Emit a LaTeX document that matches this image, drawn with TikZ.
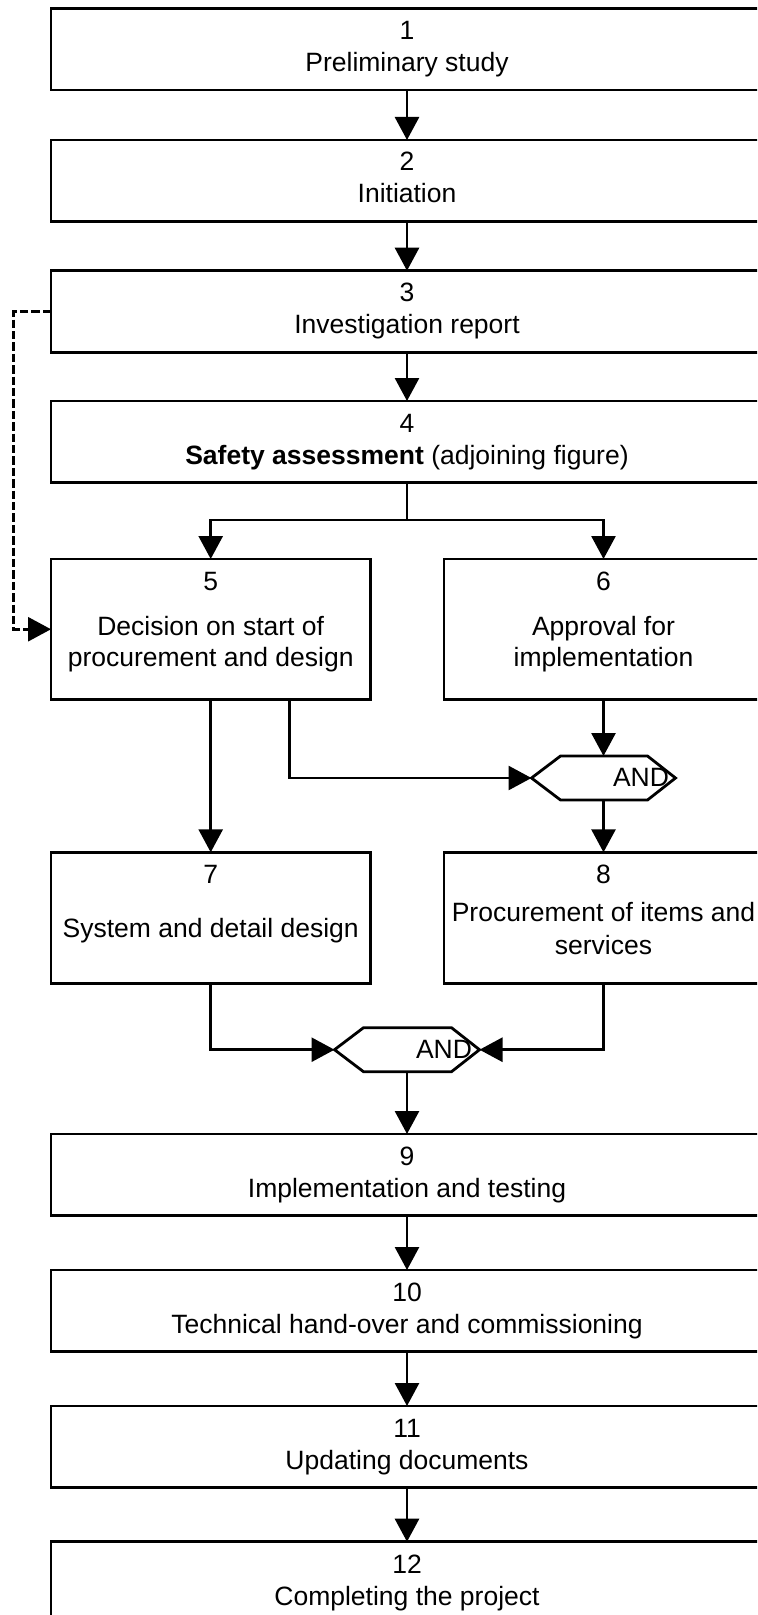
\documentclass[tikz,border=0pt]{standalone}
\usepackage{fontspec}
\setmainfont{Liberation Sans}
\usetikzlibrary{arrows.meta,calc}
\begin{document}
\begin{tikzpicture}[x=0.5pt,y=-0.5pt,
  line width=1.4pt,
  font=\fontsize{13.25pt}{15.9pt}\selectfont,
  box/.style={draw, rectangle, inner sep=0pt, outer sep=0pt},
  wide/.style={box, minimum width=356pt, minimum height=40.85pt},
  txt/.style={inner sep=0pt, outer sep=0pt, anchor=base},
  gate/.style={inner sep=0pt, outer sep=0pt, minimum height=22pt},
  flow/.style={-{Triangle[length=11.5pt,width=12pt]}},
  back/.style={flow, dash pattern=on 4.2pt off 1.5pt},
]
\path[use as bounding box, clip] (0,0) rectangle (757,1615);

% process steps
\node[wide] (b1) at (407,49.15) {};
\node[wide] (b2) at (407,180.85) {};
\node[wide] (b3) at (407,311.55) {};
\node[wide] (b4) at (407,441.85) {};
\node[box, minimum width=159.7pt, minimum height=70.25pt] (b5) at (210.7,629.25) {};
\node[box, minimum width=159.5pt, minimum height=70.25pt] (b6) at (603.5,629.25) {};
\node[box, minimum width=159.7pt, minimum height=65.5pt] (b7) at (210.7,917.8) {};
\node[box, minimum width=159.5pt, minimum height=65.5pt] (b8) at (603.5,917.8) {};
\node[wide] (b9) at (407,1174.85) {};
\node[wide] (b10) at (407,1310.85) {};
\node[wide] (b11) at (407,1446.85) {};
\node[wide] (b12) at (407,1582.55) {};

% step numbers and titles
\node[txt] (n1) at (407,39.5) {1};
\node[txt] (d1) at (407,71.5) {Preliminary study};
\node[txt] (n2) at (407,171) {2};
\node[txt] (d2) at (407,203) {Initiation};
\node[txt] (n3) at (407,302) {3};
\node[txt] (d3) at (407,334) {Investigation report};
\node[txt] (n4) at (407,432) {4};
\node[txt] (d4) at (407,464) {\textbf{Safety assessment} (adjoining figure)};
\node[txt] (n5) at (210.7,590) {5};
\node[txt] (d5a) at (210.7,635.5) {Decision on start of};
\node[txt] (d5b) at (210.7,666.5) {procurement and design};
\node[txt] (n6) at (603.5,590) {6};
\node[txt] (d6a) at (603.5,635.5) {Approval for};
\node[txt] (d6b) at (603.5,666.5) {implementation};
\node[txt] (n7) at (210.7,883.5) {7};
\node[txt] (d7) at (210.7,937.5) {System and detail design};
\node[txt] (n8) at (603.5,883.5) {8};
\node[txt] (d8a) at (603.5,921.5) {Procurement of items and};
\node[txt] (d8b) at (603.5,954) {services};
\node[txt] (n9) at (407,1165) {9};
\node[txt] (d9) at (407,1197) {Implementation and testing};
\node[txt] (n10) at (407,1301) {10};
\node[txt] (d10) at (407,1333) {Technical hand-over and commissioning};
\node[txt] (n11) at (407,1437) {11};
\node[txt] (d11) at (407,1469) {Updating documents};
\node[txt] (n12) at (407,1573) {12};
\node[txt] (d12) at (407,1605) {Completing the project};

% AND gates
\node[gate, minimum width=72pt] (and1) at (603.5,778) {};
\node[gate, minimum width=72.5pt] (and2) at (407,1049.7) {};
\foreach \g in {and1,and2}{
  \draw (\g.west) -- ($(\g.north west)+(29,0)$) -- ($(\g.north east)+(-28,0)$)
    -- (\g.east) -- ($(\g.south east)+(-28,0)$) -- ($(\g.south west)+(29,0)$) -- cycle;
}
\node[txt] (l1) at (641,786) {AND};
\node[txt] (l2) at (444,1058.5) {AND};

% connectors
\draw[flow] (b1.south) -- (b2.north);
\draw[flow] (b2.south) -- (b3.north);
\draw[flow] (b3.south) -- (b4.north);
\coordinate (split) at (407,520);
\draw (b4.south) -- (split);
\draw[flow] (split) -| (b5.north);
\draw[flow] (split) -| (b6.north);
\draw[flow] (b5.south) -- (b7.north);
\draw[flow] ($(b5.south)+(79,0)$) |- (and1.west);
\draw[flow] (b6.south) -- (and1.north);
\draw[flow] (and1.south) -- (b8.north);
\draw[flow] (b7.south) |- (and2.west);
\draw[flow] (b8.south) |- (and2.east);
\draw[flow] (and2.south) -- (b9.north);
\draw[flow] (b9.south) -- (b10.north);
\draw[flow] (b10.south) -- (b11.north);
\draw[flow] (b11.south) -- (b12.north);
\draw[back] (b3.west) -- ++(-37.5,0) |- (b5.west);
\end{tikzpicture}
\end{document}
